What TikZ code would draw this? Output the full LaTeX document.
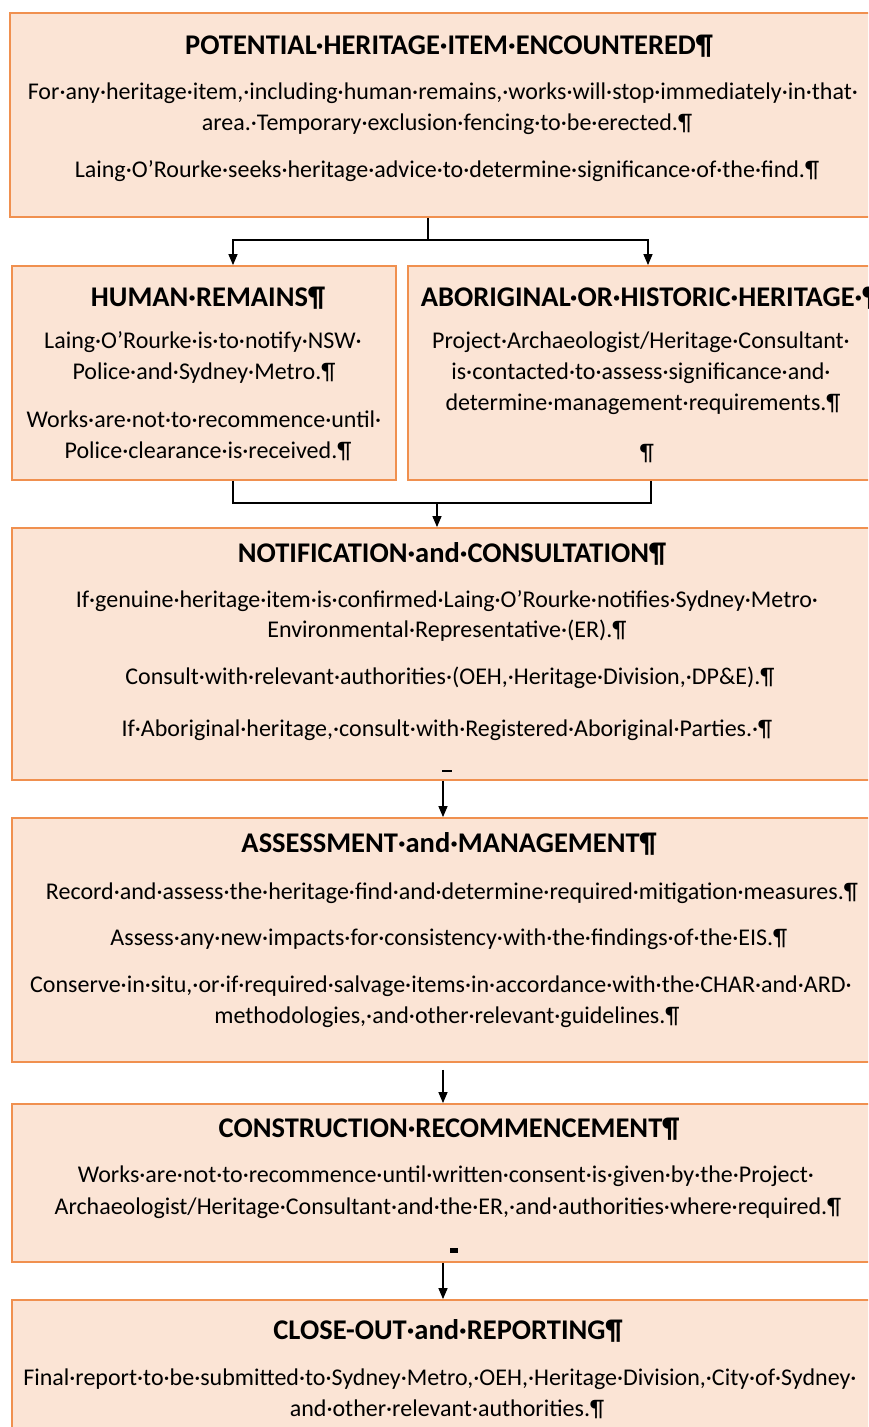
\documentclass[tikz,border=0pt]{standalone}
\usepackage{fontspec}
\setmainfont{Carlito}
\usetikzlibrary{arrows.meta}
\definecolor{boxfill}{HTML}{FBE4D5}
\definecolor{boxline}{HTML}{F0904F}
\begin{document}
\begin{tikzpicture}[x=1pt,y=-1pt,
  box/.style={draw=boxline,fill=boxfill,line width=1.8pt,rectangle,inner sep=0pt},
  ttl/.style={font=\bfseries\fontsize{28.5}{30}\selectfont,inner sep=0pt,anchor=base},
  body/.style={font=\fontsize{24}{31}\selectfont,inner sep=0pt,anchor=base},
  arr/.style={line width=1.4pt,-{Triangle[length=11pt,width=9pt]}},
  ln/.style={line width=1.4pt}]
\clip (0,0) rectangle (868,1427);
\fill[white] (0,0) rectangle (868,1427);
% boxes
\node[box,minimum width=874pt,minimum height=204pt] (b1) at (447,115) {};
\node[box,minimum width=384pt,minimum height=214pt] (hr) at (204,373) {};
\node[box,minimum width=476pt,minimum height=214pt] (ab) at (646,373) {};
\node[box,minimum width=872pt,minimum height=252pt] (nc) at (448,654) {};
\node[box,minimum width=872pt,minimum height=244pt] (am) at (448,940) {};
\node[box,minimum width=872pt,minimum height=158pt] (cr) at (448,1183) {};
\node[box,minimum width=872pt,minimum height=160pt] (co) at (448,1380) {};
% connector helper coordinates
\coordinate (j1) at (428,240);
\coordinate (hrx) at (233,0);
\coordinate (abx) at (648,0);
\coordinate (abx2) at (651,0);
\coordinate (j2) at (437,503);
\coordinate (mx) at (443,0);
% connectors
\draw[ln] (b1.south -| j1) -- (j1);
\draw[arr] (j1) -| (hr.north -| hrx);
\draw[arr] (j1) -| (ab.north -| abx);
\draw[ln] (hr.south -| hrx) |- (j2);
\draw[ln] (ab.south -| abx2) |- (j2);
\draw[arr] (j2) -- (nc.north -| j2);
\draw[arr] (nc.south -| mx) -- (am.north -| mx);
\draw[arr] ([yshift=-7pt]am.south -| mx) -- (cr.north -| mx);
\draw[arr] (cr.south -| mx) -- (co.north -| mx);
% texts box 1
\node[ttl] (t1) at (449,54) {POTENTIAL·HERITAGE·ITEM·ENCOUNTERED¶};
\node[body] (t1a) at (443,99) {For·any·heritage·item,·including·human·remains,·works·will·stop·immediately·in·that·};
\node[body] (t1b) at (447,130) {area.·Temporary·exclusion·fencing·to·be·erected.¶};
\node[body] (t1c) at (447,177) {Laing·O’Rourke·seeks·heritage·advice·to·determine·significance·of·the·find.¶};
% HR
\node[ttl] (t2) at (208,306) {HUMAN·REMAINS¶};
\node[body] (t2a) at (203,348) {Laing·O’Rourke·is·to·notify·NSW·};
\node[body] (t2b) at (204,379) {Police·and·Sydney·Metro.¶};
\node[body] (t2c) at (204,427) {Works·are·not·to·recommence·until·};
\node[body] (t2d) at (208,458) {Police·clearance·is·received.¶};
% AB
\node[ttl] (t3) at (650,306) {ABORIGINAL·OR·HISTORIC·HERITAGE·¶};
\node[body] (t3a) at (641,348) {Project·Archaeologist/Heritage·Consultant·};
\node[body] (t3b) at (641,379) {is·contacted·to·assess·significance·and·};
\node[body] (t3c) at (643,410) {determine·management·requirements.¶};
\node[body] (t3d) at (647,460) {¶};
% NC
\node[ttl] (t4) at (452,562) {NOTIFICATION·and·CONSULTATION¶};
\node[body] (t4a) at (447,607) {If·genuine·heritage·item·is·confirmed·Laing·O’Rourke·notifies·Sydney·Metro·};
\node[body] (t4b) at (447,637) {Environmental·Representative·(ER).¶};
\node[body] (t4c) at (450,684) {Consult·with·relevant·authorities·(OEH,·Heritage·Division,·DP\&E).¶};
\node[body] (t4d) at (447,736) {If·Aboriginal·heritage,·consult·with·Registered·Aboriginal·Parties.·¶};
\fill (442,770) rectangle (452,772);
% AM
\node[ttl] (t5) at (449,852) {ASSESSMENT·and·MANAGEMENT¶};
\node[body] (t5a) at (452,899) {Record·and·assess·the·heritage·find·and·determine·required·mitigation·measures.¶};
\node[body] (t5b) at (449,945) {Assess·any·new·impacts·for·consistency·with·the·findings·of·the·EIS.¶};
\node[body] (t5c) at (441,992) {Conserve·in·situ,·or·if·required·salvage·items·in·accordance·with·the·CHAR·and·ARD·};
\node[body] (t5d) at (447,1023) {methodologies,·and·other·relevant·guidelines.¶};
% CR
\node[ttl] (t6) at (449,1137) {CONSTRUCTION·RECOMMENCEMENT¶};
\node[body] (t6a) at (446,1182) {Works·are·not·to·recommence·until·written·consent·is·given·by·the·Project·};
\node[body] (t6b) at (448,1214) {Archaeologist/Heritage·Consultant·and·the·ER,·and·authorities·where·required.¶};
\fill (450,1248) rectangle (458,1253);
% CO
\node[ttl] (t7) at (448,1339) {CLOSE-OUT·and·REPORTING¶};
\node[body] (t7a) at (440,1385) {Final·report·to·be·submitted·to·Sydney·Metro,·OEH,·Heritage·Division,·City·of·Sydney·};
\node[body] (t7b) at (447,1416) {and·other·relevant·authorities.¶};
\end{tikzpicture}
\end{document}
